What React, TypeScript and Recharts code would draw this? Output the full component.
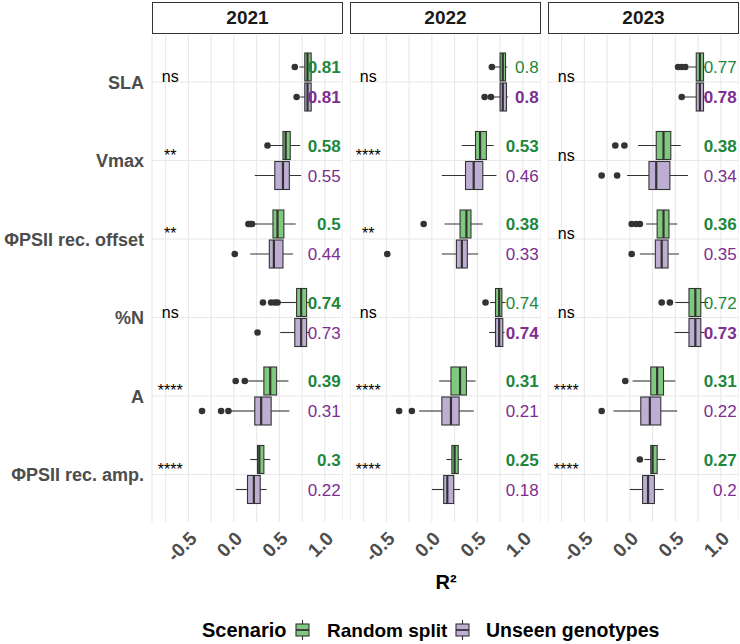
import React from 'react';
import { ComposedChart, Bar, XAxis, YAxis, CartesianGrid } from 'recharts';

const traits = ['SLA', 'Vmax', 'ΦPSII rec. offset', '%N', 'A', 'ΦPSII rec. amp.'];
const years = ['2021', '2022', '2023'];
const xTicks = [-0.75, -0.5, -0.25, 0, 0.25, 0.5, 0.75, 1];
const xLabelTicks = [-0.5, 0, 0.5, 1];
const xDomain = [-0.9, 1.2];

// box stats per trait: [lower whisker, Q1, median, Q3, upper whisker]
const random2021 = [
  [0.72, 0.78, 0.81, 0.85, 0.86],
  [0.4, 0.54, 0.57, 0.62, 0.73],
  [0.22, 0.43, 0.48, 0.55, 0.68],
  [0.5, 0.69, 0.74, 0.8, 0.83],
  [0.15, 0.33, 0.4, 0.47, 0.6],
  [0.18, 0.26, 0.28, 0.33, 0.4],
];
const randomOut2021 = [[0.67], [0.37], [0.16, 0.18, 0.2], [0.32, 0.41, 0.45, 0.48], [0.02, 0.12], []];
const randomR2_2021 = [0.81, 0.58, 0.5, 0.74, 0.39, 0.3];
const randomBold2021 = [true, true, true, true, true, true];

const unseen2021 = [
  [0.73, 0.78, 0.81, 0.85, 0.86],
  [0.23, 0.45, 0.54, 0.61, 0.74],
  [0.18, 0.39, 0.44, 0.54, 0.65],
  [0.51, 0.67, 0.74, 0.8, 0.83],
  [-0.04, 0.23, 0.3, 0.41, 0.61],
  [0.02, 0.15, 0.22, 0.29, 0.36],
];
const unseenOut2021 = [[0.69], [], [0.01], [0.26], [-0.35, -0.14, -0.06], []];
const unseenR2_2021 = [0.81, 0.55, 0.44, 0.73, 0.31, 0.22];
const unseenBold2021 = [true, false, false, false, false, false];
const sig2021 = ['ns', '**', '**', 'ns', '****', '****'];

const random2022 = [
  [0.69, 0.75, 0.78, 0.81, 0.83],
  [0.33, 0.48, 0.53, 0.6, 0.68],
  [0.14, 0.31, 0.38, 0.43, 0.56],
  [0.64, 0.7, 0.74, 0.77, 0.81],
  [0.08, 0.21, 0.31, 0.38, 0.48],
  [0.16, 0.22, 0.25, 0.29, 0.33],
];
const randomOut2022 = [[0.66], [], [-0.09], [0.59], [], []];
const randomR2_2022 = [0.8, 0.53, 0.38, 0.74, 0.31, 0.25];
const randomBold2022 = [false, true, true, false, true, true];

const unseen2022 = [
  [0.68, 0.75, 0.78, 0.82, 0.84],
  [0.11, 0.37, 0.46, 0.56, 0.71],
  [0.11, 0.27, 0.33, 0.39, 0.51],
  [0.63, 0.7, 0.74, 0.78, 0.8],
  [-0.14, 0.11, 0.21, 0.3, 0.46],
  [0.0, 0.13, 0.17, 0.24, 0.31],
];
const unseenOut2022 = [[0.58, 0.65], [], [-0.49], [], [-0.36, -0.22], []];
const unseenR2_2022 = [0.8, 0.46, 0.33, 0.74, 0.21, 0.18];
const unseenBold2022 = [true, false, false, true, false, false];
const sig2022 = ['ns', '****', '**', 'ns', '****', '****'];

const random2023 = [
  [0.65, 0.73, 0.77, 0.81, 0.84],
  [0.09, 0.29, 0.37, 0.45, 0.56],
  [0.18, 0.3, 0.37, 0.43, 0.52],
  [0.5, 0.65, 0.72, 0.78, 0.86],
  [0.03, 0.23, 0.3, 0.37, 0.5],
  [0.16, 0.23, 0.25, 0.3, 0.39],
];
const randomOut2023 = [[0.53, 0.57, 0.61], [-0.16, -0.06], [0.02, 0.07, 0.11], [0.35, 0.44], [-0.05], [0.11]];
const randomR2_2023 = [0.77, 0.38, 0.36, 0.72, 0.31, 0.27];
const randomBold2023 = [false, true, true, false, true, true];

const unseen2023 = [
  [0.6, 0.73, 0.77, 0.81, 0.83],
  [-0.03, 0.21, 0.29, 0.44, 0.64],
  [0.11, 0.28, 0.35, 0.42, 0.54],
  [0.49, 0.65, 0.72, 0.78, 0.82],
  [-0.18, 0.12, 0.22, 0.34, 0.52],
  [0.0, 0.14, 0.2, 0.27, 0.37],
];
const unseenOut2023 = [[0.57], [-0.31, -0.14], [0.02], [], [-0.31], []];
const unseenR2_2023 = [0.78, 0.34, 0.35, 0.73, 0.22, 0.2];
const unseenBold2023 = [true, false, false, true, false, false];
const sig2023 = ['ns', 'ns', 'ns', 'ns', '****', '****'];

const INK = '#333333';
const GRID = '#e8e8e8';
const GREEN_FILL = '#7fc97f';
const PURPLE_FILL = '#beaed4';
const GREEN_TEXT = '#1e873c';
const PURPLE_TEXT = '#7d2e91';
const FONT = '"Liberation Sans", Arial, sans-serif';

const LABEL_X = 1.175;
const SIG_X = -0.7;

const buildRows = (
  sig: string[],
  rs: number[][], rsOut: number[][], rsR2: number[], rsBold: boolean[],
  ug: number[][], ugOut: number[][], ugR2: number[], ugBold: boolean[],
) =>
  traits.map((trait, i) => ({
    trait,
    sig: sig[i],
    random: { box: rs[i], out: rsOut[i], r2: rsR2[i], bold: rsBold[i] },
    unseen: { box: ug[i], out: ugOut[i], r2: ugR2[i], bold: ugBold[i] },
    randomRange: [rs[i][1], rs[i][3]],
    unseenRange: [ug[i][1], ug[i][3]],
  }));

const panels = [
  buildRows(sig2021, random2021, randomOut2021, randomR2_2021, randomBold2021, unseen2021, unseenOut2021, unseenR2_2021, unseenBold2021),
  buildRows(sig2022, random2022, randomOut2022, randomR2_2022, randomBold2022, unseen2022, unseenOut2022, unseenR2_2022, unseenBold2022),
  buildRows(sig2023, random2023, randomOut2023, randomR2_2023, randomBold2023, unseen2023, unseenOut2023, unseenR2_2023, unseenBold2023),
];

// the bar spans Q1..Q3; whiskers, median, outliers and labels are placed on the same x scale.
// The upper (random split) box also carries the trait's grid line and significance label.
const boxShape = (key: 'random' | 'unseen', fill: string, textColor: string, upper: boolean) => (props: any) => {
  const { x, y, width, height, payload } = props;
  const s = payload[key];
  const [lo, q1, med, q3, hi] = s.box;
  const ppu = width / (q3 - q1);
  const px = (v: number) => x + (v - q1) * ppu;
  const cy = y + height / 2;
  const rowY = y + height + 1;
  return (
    <g>
      {upper && (
        <line x1={px(xDomain[0])} x2={px(xDomain[1])} y1={rowY} y2={rowY} stroke={GRID} strokeWidth={1.1} />
      )}
      <line x1={px(lo)} x2={px(q1)} y1={cy} y2={cy} stroke={INK} strokeWidth={1.1} />
      <line x1={px(q3)} x2={px(hi)} y1={cy} y2={cy} stroke={INK} strokeWidth={1.1} />
      <rect x={x} y={y} width={width} height={height} fill={fill} stroke={INK} strokeWidth={1.1} />
      <line x1={px(med)} x2={px(med)} y1={y} y2={y + height} stroke={INK} strokeWidth={2.2} />
      {s.out.map((v: number, i: number) => (
        <circle key={i} cx={px(v)} cy={cy} r={3.3} fill={INK} />
      ))}
      <text
        x={px(LABEL_X)}
        y={cy}
        dy="0.36em"
        textAnchor="end"
        fontSize={17}
        fontWeight={s.bold ? 700 : 400}
        fill={textColor}
      >
        {String(s.r2)}
      </text>
      {upper && (
        <text x={px(SIG_X)} y={rowY} textAnchor="middle" fontSize={16} fill="#000">
          {payload.sig}
        </text>
      )}
    </g>
  );
};

const XTick = (props: any) => {
  const { x, y, payload } = props;
  if (!xLabelTicks.includes(payload.value)) return <g />;
  return (
    <text
      x={x}
      y={y}
      dy="0.72em"
      textAnchor="end"
      transform={`rotate(-45 ${x} ${y})`}
      fill="#4d4d4d"
      fontSize={19}
      fontWeight={700}
    >
      {payload.value.toFixed(1)}
    </text>
  );
};

const PLOT_H = 487;
const AXIS_H = 60;
const PANEL_W = 191;
const AXIS_W = 152;
const panelLefts = [152, 350, 548];

const Panel = ({ rows, showY }: { rows: any[]; showY: boolean }) => (
  <ComposedChart
    width={showY ? AXIS_W + PANEL_W : PANEL_W}
    height={PLOT_H + AXIS_H}
    data={rows}
    layout="vertical"
    margin={{ top: 0, right: 0, bottom: 0, left: 0 }}
    barSize={28}
    barGap={2}
  >
    <CartesianGrid stroke={GRID} strokeWidth={1.1} horizontal={false} />
    <XAxis
      type="number"
      domain={xDomain}
      ticks={xTicks}
      interval={0}
      allowDataOverflow
      tick={<XTick />}
      tickLine={false}
      axisLine={false}
      tickSize={0}
      tickMargin={8}
      height={AXIS_H}
    />
    <YAxis
      type="category"
      dataKey="trait"
      hide={!showY}
      width={AXIS_W}
      padding={{ top: 8, bottom: 8 }}
      interval={0}
      tickLine={false}
      axisLine={false}
      tickSize={0}
      tickMargin={8}
      tick={{ fill: '#4d4d4d', fontSize: 18, fontWeight: 700 }}
    />
    <Bar dataKey="randomRange" isAnimationActive={false} shape={boxShape('random', GREEN_FILL, GREEN_TEXT, true)} />
    <Bar dataKey="unseenRange" isAnimationActive={false} shape={boxShape('unseen', PURPLE_FILL, PURPLE_TEXT, false)} />
  </ComposedChart>
);

const LegendKey = ({ x, fill }: { x: number; fill: string }) => (
  <g>
    <line x1={x + 6.5} x2={x + 6.5} y1={620} y2={624} stroke={INK} strokeWidth={1.1} />
    <rect x={x} y={624} width={13} height={12} fill={fill} stroke={INK} strokeWidth={1.1} />
    <line x1={x} x2={x + 13} y1={630} y2={630} stroke={INK} strokeWidth={1.8} />
    <line x1={x + 6.5} x2={x + 6.5} y1={636} y2={640} stroke={INK} strokeWidth={1.1} />
  </g>
);

export default function App() {
  return (
    <div
      style={{
        position: 'absolute',
        left: 0,
        top: 0,
        width: 740,
        height: 644,
        overflow: 'hidden',
        background: '#fff',
        fontFamily: FONT,
      }}
    >
      {years.map((yr, i) => (
        <div
          key={yr}
          style={{
            position: 'absolute',
            left: panelLefts[i],
            top: 2,
            width: PANEL_W,
            height: 32,
            boxSizing: 'border-box',
            border: `1px solid ${INK}`,
            textAlign: 'center',
            lineHeight: '30px',
            fontSize: 19,
            fontWeight: 700,
            color: '#1a1a1a',
          }}
        >
          {yr}
        </div>
      ))}
      {panels.map((rows, i) => (
        <div
          key={i}
          style={{ position: 'absolute', top: 35, left: i === 0 ? 0 : panelLefts[i] }}
        >
          <Panel rows={rows} showY={i === 0} />
        </div>
      ))}
      <svg
        width={740}
        height={644}
        style={{ position: 'absolute', left: 0, top: 0, pointerEvents: 'none' }}
      >
        <text x={446} y={589} textAnchor="middle" fontSize={20} fontWeight={700} fill="#000">
          R²
        </text>
        <text x={202} y={637} fontSize={20} fontWeight={700} fill="#000">
          Scenario
        </text>
        <LegendKey x={296} fill={GREEN_FILL} />
        <text x={327} y={637} fontSize={19} fontWeight={700} fill="#000">
          Random split
        </text>
        <LegendKey x={456} fill={PURPLE_FILL} />
        <text x={486} y={637} fontSize={19.5} fontWeight={700} fill="#000">
          Unseen genotypes
        </text>
      </svg>
    </div>
  );
}
